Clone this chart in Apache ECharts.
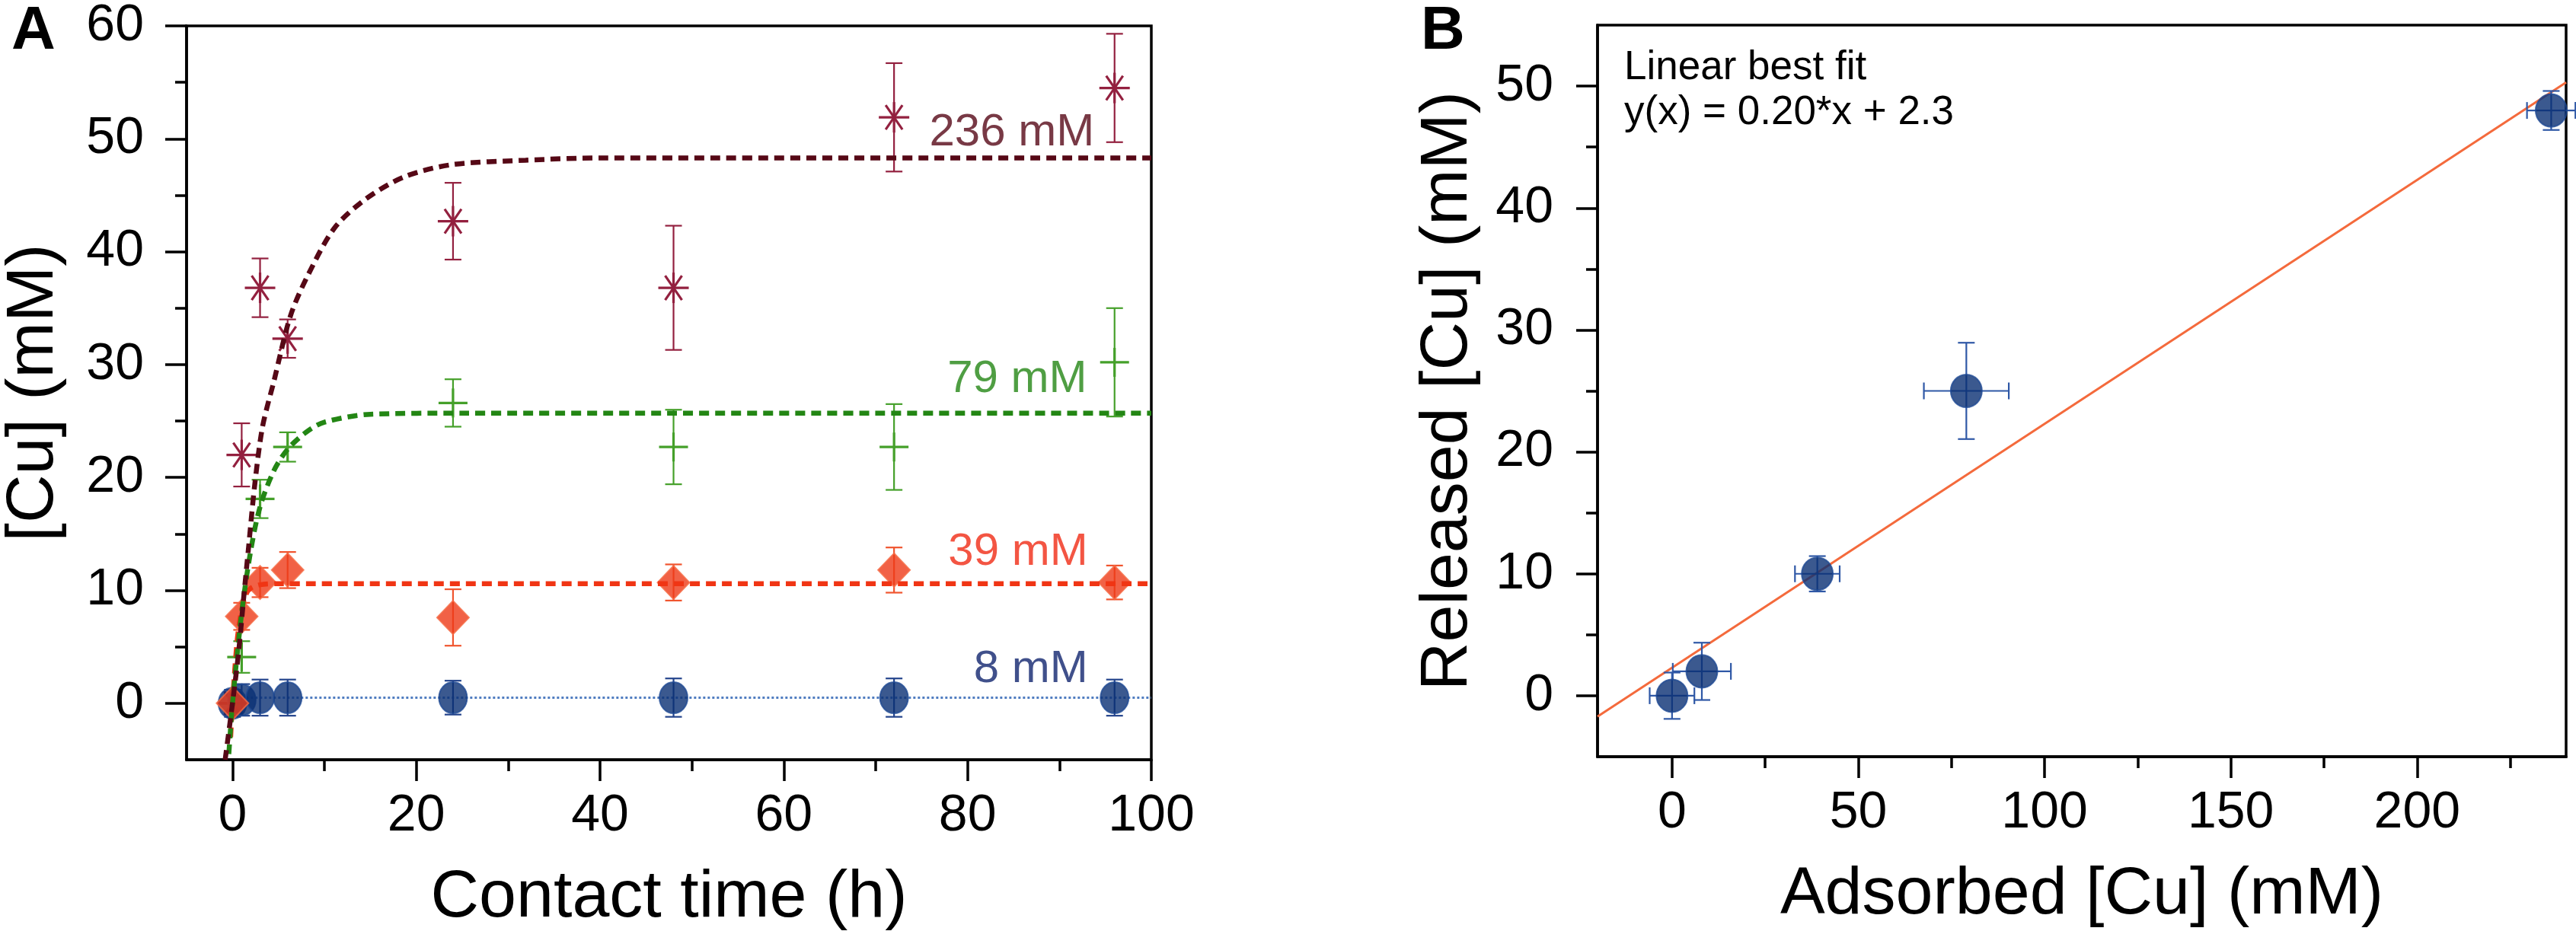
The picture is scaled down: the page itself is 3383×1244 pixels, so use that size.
<!DOCTYPE html>
<html>
<head>
<meta charset="utf-8">
<title>Cu adsorption / release</title>
<script src="https://cdn.jsdelivr.net/npm/echarts@6/dist/echarts.min.js"></script>
<style>
  html, body { margin: 0; padding: 0; background: #fff; }
  #main { width: 3383px; height: 1244px; }
</style>
</head>
<body>
<div id="main"></div>
<script>
// ---- panel A : release kinetics ----
var timeH = [0, 1, 3, 6, 24, 48, 72, 96];

var cu236 = [0, 22.0, 36.8, 32.3, 42.7, 36.8, 51.9, 54.5];
var err236 = [0.8, 2.8, 2.6, 1.7, 3.4, 5.5, 4.8, 4.8];
var cu79 = [0, 4.1, 18.1, 22.7, 26.6, 22.7, 22.7, 30.2];
var err79 = [0.8, 1.4, 1.7, 1.3, 2.1, 3.3, 3.8, 4.8];
var cu39 = [0, 7.7, 10.7, 11.8, 7.6, 10.7, 11.8, 10.7];
var err39 = [0.8, 1.2, 1.3, 1.6, 2.5, 1.6, 2.0, 1.5];
var cu8 = [0, 0.3, 0.5, 0.5, 0.5, 0.5, 0.5, 0.5];
var err8 = [1.2, 1.4, 1.6, 1.6, 1.5, 1.7, 1.7, 1.6];

// fitted curves
var fit236 = [[-0.8, -5], [0, 0], [0.66, 4.5], [1.2, 9.2], [1.76, 13.9], [2.44, 19.5],
  [3.27, 24.5], [4.5, 28.5], [6.3, 34.3], [8.2, 37.9], [11.1, 42.1], [14.4, 44.6],
  [18.6, 46.6], [23.8, 47.7], [31.9, 48.1], [40, 48.3], [100, 48.3]];
var fit79 = [[-0.4, -4.5], [0, 0], [1, 8], [2, 13.6], [3, 17.4], [4.5, 20.6], [6, 22.5],
  [8, 24.0], [10, 24.9], [15, 25.6], [25, 25.7], [100, 25.7]];
var fit39 = [[-0.2, -3], [0, 0], [0.5, 5.5], [1, 8.3], [1.5, 9.7], [2, 10.2], [3, 10.5],
  [5, 10.6], [100, 10.6]];
var fit8 = [[0, 0.5], [100, 0.5]];

var aTimeMajor = [0, 20, 40, 60, 80, 100];
var aTimeMinor = [10, 30, 50, 70, 90];
var aCuMajor = [0, 10, 20, 30, 40, 50, 60];
var aCuMinor = [5, 15, 25, 35, 45, 55];

// ---- panel B : released vs adsorbed ----
var adsorbed = [0, 8, 39, 79, 236];
var adsorbedErr = [6, 7.8, 6, 11.4, 6.5];
var released = [0, 2, 10, 25, 48];
var releasedErr = [1.9, 2.35, 1.45, 3.95, 1.6];
var fitLineX = [-20, 240];
var fitLineY = [-1.7, 50.3];

var bAdsMajor = [0, 50, 100, 150, 200];
var bAdsMinor = [25, 75, 125, 175, 225];
var bRelMajor = [0, 10, 20, 30, 40, 50];
var bRelMinor = [5, 15, 25, 35, 45];

var FONT = "'Liberation Sans', Arial, Helvetica, sans-serif";

function zipRows(xs, ys, es) {
  return xs.map(function (x, i) { return [x, ys[i], es[i]]; });
}

// vertical error bar plus an optional stroked marker (asterisk / plus)
function kineticBars(color, width, cap, marker) {
  return function (params, api) {
    var x = api.value(0), y = api.value(1), e = api.value(2);
    var c = api.coord([x, y]);
    var hi = api.coord([x, y + e]);
    var lo = api.coord([x, y - e]);
    var st = { stroke: color, lineWidth: width };
    var kids = [
      { type: 'line', shape: { x1: c[0], y1: hi[1], x2: c[0], y2: lo[1] }, style: st },
      { type: 'line', shape: { x1: c[0] - cap, y1: hi[1], x2: c[0] + cap, y2: hi[1] }, style: st },
      { type: 'line', shape: { x1: c[0] - cap, y1: lo[1], x2: c[0] + cap, y2: lo[1] }, style: st }
    ];
    var ms = { stroke: color, lineWidth: width + 1 };
    if (marker === 'star') {
      kids.push({ type: 'line', shape: { x1: c[0] - 20, y1: c[1], x2: c[0] + 20, y2: c[1] }, style: ms });
      kids.push({ type: 'line', shape: { x1: c[0], y1: c[1] - 20, x2: c[0], y2: c[1] + 20 }, style: ms });
      kids.push({ type: 'line', shape: { x1: c[0] - 11, y1: c[1] - 16, x2: c[0] + 11, y2: c[1] + 16 }, style: ms });
      kids.push({ type: 'line', shape: { x1: c[0] - 11, y1: c[1] + 16, x2: c[0] + 11, y2: c[1] - 16 }, style: ms });
    } else if (marker === 'plus') {
      kids.push({ type: 'line', shape: { x1: c[0] - 19, y1: c[1], x2: c[0] + 19, y2: c[1] }, style: ms });
      kids.push({ type: 'line', shape: { x1: c[0], y1: c[1] - 19, x2: c[0], y2: c[1] + 19 }, style: ms });
    }
    return { type: 'group', children: kids };
  };
}

// x and y error bars for panel B
function crossBars(params, api) {
  var x = api.value(0), y = api.value(1), ex = api.value(2), ey = api.value(3);
  var c = api.coord([x, y]);
  var t = api.coord([x, y + ey]), b = api.coord([x, y - ey]);
  var l = api.coord([x - ex, y]), r = api.coord([x + ex, y]);
  var st = { stroke: '#2f58a6', lineWidth: 2.2 };
  var cap = 11;
  return {
    type: 'group',
    children: [
      { type: 'line', shape: { x1: c[0], y1: t[1], x2: c[0], y2: b[1] }, style: st },
      { type: 'line', shape: { x1: l[0], y1: c[1], x2: r[0], y2: c[1] }, style: st },
      { type: 'line', shape: { x1: c[0] - cap, y1: t[1], x2: c[0] + cap, y2: t[1] }, style: st },
      { type: 'line', shape: { x1: c[0] - cap, y1: b[1], x2: c[0] + cap, y2: b[1] }, style: st },
      { type: 'line', shape: { x1: l[0], y1: c[1] - cap, x2: l[0], y2: c[1] + cap }, style: st },
      { type: 'line', shape: { x1: r[0], y1: c[1] - cap, x2: r[0], y2: c[1] + cap }, style: st }
    ]
  };
}

function majorAxis(grid, pos, min, max, ticks, name, gap, margin) {
  return {
    gridIndex: grid, type: 'value', position: pos, offset: 0, min: min, max: max,
    axisLine: { show: true, onZero: false, lineStyle: { color: '#000', width: 3.5 } },
    axisTick: { show: true, customValues: ticks, length: 28, lineStyle: { color: '#000', width: 3.5 } },
    axisLabel: { show: true, customValues: ticks, margin: margin, color: '#000', fontSize: 68, fontFamily: FONT },
    splitLine: { show: false },
    name: name, nameLocation: 'middle', nameGap: gap,
    nameTextStyle: { color: '#000', fontSize: 88, fontFamily: FONT }
  };
}

function minorAxis(grid, pos, min, max, ticks) {
  return {
    gridIndex: grid, type: 'value', position: pos, offset: 0, min: min, max: max,
    axisLine: { show: false, onZero: false },
    axisTick: { show: true, customValues: ticks, length: 15, lineStyle: { color: '#000', width: 3.5 } },
    axisLabel: { show: false },
    splitLine: { show: false }
  };
}

function tag(text, color, at) {
  return {
    type: 'scatter', xAxisIndex: 0, yAxisIndex: 0, silent: true, z: 10,
    symbolSize: 0, data: [at],
    itemStyle: { color: 'transparent' },
    label: { show: true, position: 'left', distance: 0, formatter: text,
      color: color, fontSize: 60, fontFamily: FONT }
  };
}

var chart = echarts.init(document.getElementById('main'));

var option = {
  animation: false,
  backgroundColor: '#fff',
  textStyle: { fontFamily: FONT },
  grid: [
    { left: 241, top: 33, width: 1271, height: 965, show: true,
      borderColor: '#000', borderWidth: 3.5, backgroundColor: 'transparent' },
    { left: 2098, top: 33, width: 1272, height: 961, show: true,
      borderColor: '#000', borderWidth: 3.5, backgroundColor: 'transparent' }
  ],
  xAxis: [
    majorAxis(0, 'bottom', -5, 100, aTimeMajor, 'Contact time (h)', 138, 40),
    minorAxis(0, 'bottom', -5, 100, aTimeMinor),
    majorAxis(1, 'bottom', -20, 240, bAdsMajor, 'Adsorbed [Cu] (mM)', 138, 40),
    minorAxis(1, 'bottom', -20, 240, bAdsMinor)
  ],
  yAxis: [
    majorAxis(0, 'left', -5, 60, aCuMajor, '[Cu] (mM)', 156, 56),
    minorAxis(0, 'left', -5, 60, aCuMinor),
    majorAxis(1, 'left', -5, 55, bRelMajor, 'Released [Cu] (mM)', 152, 58),
    minorAxis(1, 'left', -5, 55, bRelMinor)
  ],
  graphic: [
    { type: 'text', left: 15, top: 2, style: { text: 'A', fontSize: 80, fontWeight: 'bold', fill: '#000', fontFamily: FONT } },
    { type: 'text', left: 1866, top: 2, style: { text: 'B', fontSize: 80, fontWeight: 'bold', fill: '#000', fontFamily: FONT } },
    { type: 'text', left: 2133, top: 60, style: { text: 'Linear best fit\ny(x) = 0.20*x + 2.3',
      fontSize: 53, lineHeight: 59, fill: '#000', fontFamily: FONT } }
  ],
  series: [
    // 8 mM
    { type: 'line', xAxisIndex: 0, yAxisIndex: 0, data: fit8, showSymbol: false, z: 2,
      lineStyle: { color: '#4f7cc0', width: 3, type: [3, 3] } },
    { type: 'custom', xAxisIndex: 0, yAxisIndex: 0, z: 3,
      renderItem: kineticBars('#24448c', 2.2, 11, null), data: zipRows(timeH, cu8, err8) },
    { type: 'scatter', xAxisIndex: 0, yAxisIndex: 0, z: 4, symbol: 'circle', symbolSize: [37, 41],
      itemStyle: { color: '#0a2f73', borderColor: '#1f4a94', borderWidth: 2 },
      data: timeH.map(function (t, i) { return [t, cu8[i]]; }) },
    // 39 mM
    { type: 'custom', xAxisIndex: 0, yAxisIndex: 0, z: 3,
      renderItem: kineticBars('#f0552f', 2.2, 11, null), data: zipRows(timeH, cu39, err39) },
    { type: 'scatter', xAxisIndex: 0, yAxisIndex: 0, z: 4, symbol: 'diamond', symbolSize: [42, 44],
      itemStyle: { color: '#ee3a18', borderColor: '#f56a45', borderWidth: 2 },
      data: timeH.map(function (t, i) { return [t, cu39[i]]; }) },
    { type: 'line', xAxisIndex: 0, yAxisIndex: 0, data: fit39, showSymbol: false, smooth: 0.3, z: 5,
      lineStyle: { color: '#f03514', width: 6.5, type: [13, 8] } },
    // 79 mM
    { type: 'custom', xAxisIndex: 0, yAxisIndex: 0, z: 4,
      renderItem: kineticBars('#45a02a', 2.2, 11, 'plus'), data: zipRows(timeH, cu79, err79) },
    { type: 'line', xAxisIndex: 0, yAxisIndex: 0, data: fit79, showSymbol: false, smooth: 0.3, z: 5,
      lineStyle: { color: '#238614', width: 6.5, type: [13, 8] } },
    // 236 mM
    { type: 'custom', xAxisIndex: 0, yAxisIndex: 0, z: 4,
      renderItem: kineticBars('#93203f', 2.2, 11, 'star'), data: zipRows(timeH, cu236, err236) },
    { type: 'line', xAxisIndex: 0, yAxisIndex: 0, data: fit236, showSymbol: false, smooth: 0.3, z: 5,
      lineStyle: { color: '#560816', width: 6.5, type: [13, 8] } },
    // curve labels
    tag('236 mM', '#560816', [93.8, 50.5]),
    tag('79 mM', '#238614', [93.0, 28.7]),
    tag('39 mM', '#f02a14', [93.1, 13.4]),
    tag('8 mM', '#10246e', [93.1, 3.0]),
    // panel B
    { type: 'line', xAxisIndex: 2, yAxisIndex: 2, z: 3, showSymbol: false,
      data: fitLineX.map(function (x, i) { return [x, fitLineY[i]]; }),
      lineStyle: { color: '#f46a3c', width: 3 } },
    { type: 'custom', xAxisIndex: 2, yAxisIndex: 2, z: 4, renderItem: crossBars,
      data: adsorbed.map(function (x, i) { return [x, released[i], adsorbedErr[i], releasedErr[i]]; }) },
    { type: 'scatter', xAxisIndex: 2, yAxisIndex: 2, z: 5, symbol: 'circle', symbolSize: [41, 43],
      itemStyle: { color: '#0a2f73', borderColor: '#1f4a94', borderWidth: 2 },
      data: adsorbed.map(function (x, i) { return [x, released[i]]; }) }
  ]
};

chart.setOption(option);
</script>
</body>
</html>
